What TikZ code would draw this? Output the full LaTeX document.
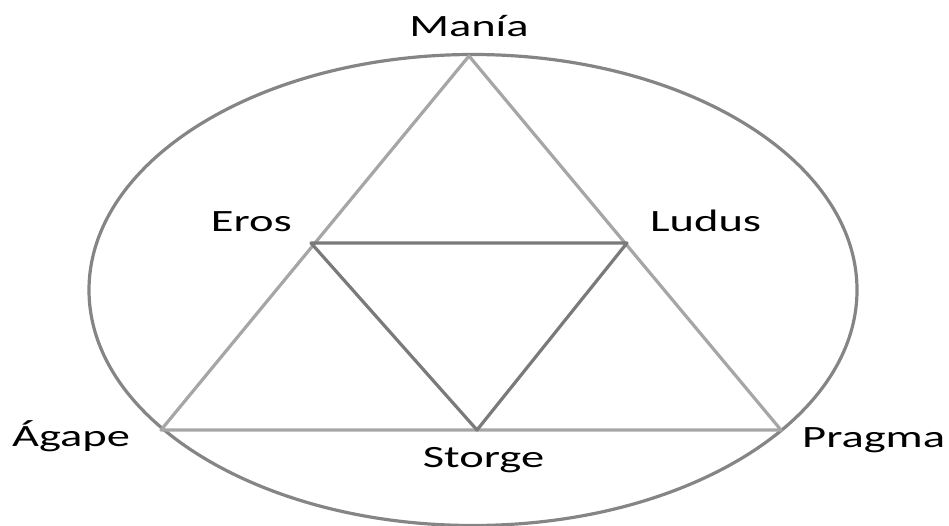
\documentclass[tikz,border=0pt]{standalone}
\usepackage{fontspec}
\setmainfont[FakeStretch=1.5]{Carlito}
\usepackage{xcolor}
\usepackage{tikz}
\usetikzlibrary{positioning}

\definecolor{ringgray}{HTML}{858585}
\definecolor{outergray}{HTML}{A6A6A6}
\definecolor{innergray}{HTML}{7A7A7A}

\begin{document}
\begin{tikzpicture}[
    x=1pt, y=-1pt,
    ring/.style={draw=ringgray, line width=3.2pt},
    outerline/.style={draw=outergray, line width=3.2pt, line join=round},
    innerline/.style={draw=innergray, line width=3.2pt, line join=round},
    lbl/.style={inner sep=0pt, font=\fontsize{31}{31}\selectfont, text=black}
]
\useasboundingbox (0,0) rectangle (949,526);

% vertices
\coordinate (mania) at (469,56);
\coordinate (agape) at (161,430);
\coordinate (pragma) at (781,430);
\coordinate (eros) at (311,243);
\coordinate (ludus) at (627,243);
\coordinate (storge) at (477,430);

% ellipse
\draw[ring] (473,290) ellipse [x radius=384, y radius=235.5];

% outer triangle
\draw[outerline] (mania) -- (agape) -- (pragma) -- cycle;
% inner triangle
\draw[innerline] (eros) -- (ludus) -- (storge) -- cycle;

% labels
\node[lbl, anchor=base] (manialbl) at (469,37) {Manía};
\node[lbl, anchor=base east] (eroslbl) at (292,232) {Eros};
\node[lbl, anchor=base west] (luduslbl) at (650,232) {Ludus};
\node[lbl, anchor=base west] (agapelbl) at (12,446) {Ágape};
\node[lbl, anchor=base west] (pragmalbl) at (802,447) {Pragma};
\node[lbl, anchor=base] (storgelbl) at (483.5,467) {Storge};
\end{tikzpicture}
\end{document}
